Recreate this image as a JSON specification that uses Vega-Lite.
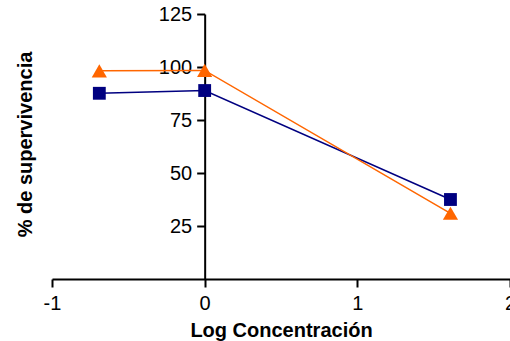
{
  "$schema": "https://vega.github.io/schema/vega-lite/v6.json",
  "autosize": "none",
  "width": 458,
  "height": 265,
  "padding": {"left": 52, "top": 14, "right": 0, "bottom": 62},
  "background": "white",
  "config": {"view": {"stroke": null}, "font": "Liberation Sans"},
  "data": {
    "values": [
      {"logc": -0.69, "surv": 87.6, "serie": "A"},
      {"logc": 0, "surv": 88.9, "serie": "A"},
      {"logc": 1.61, "surv": 37.5, "serie": "A"},
      {"logc": -0.69, "surv": 98.2, "serie": "B"},
      {"logc": 0, "surv": 98.4, "serie": "B"},
      {"logc": 1.61, "surv": 31.0, "serie": "B"}
    ]
  },
  "encoding": {
    "x": {
      "field": "logc", "type": "quantitative",
      "scale": {"domain": [-1, 2], "nice": false, "zero": false},
      "axis": {
        "title": "Log Concentración",
        "values": [-1, 0, 1, 2],
        "labelExpr": "'' + datum.value",
        "grid": false,
        "domainColor": "black", "domainWidth": 2,
        "tickColor": "black", "tickWidth": 2, "tickSize": 8,
        "labelColor": "black", "labelFontSize": 20, "labelPadding": 6,
        "labelFlush": false, "labelOverlap": false,
        "titleFontSize": 20, "titleFontWeight": "bold", "titleColor": "black",
        "titleBaseline": "alphabetic", "titleY": 57
      }
    },
    "y": {
      "field": "surv", "type": "quantitative",
      "scale": {"domain": [0, 125], "nice": false},
      "axis": {
        "title": "% de supervivencia",
        "values": [25, 50, 75, 100, 125],
        "offset": -152.67,
        "grid": false,
        "domainColor": "black", "domainWidth": 2,
        "tickColor": "black", "tickWidth": 2, "tickSize": 8,
        "labelColor": "black", "labelFontSize": 20, "labelPadding": 5,
        "labelFlush": false, "labelOverlap": false,
        "titleFontSize": 20, "titleFontWeight": "bold", "titleColor": "black",
        "titleAngle": -90, "titleBaseline": "alphabetic", "titleAlign": "center",
        "titleX": -173, "titleY": 130
      }
    },
    "color": {
      "field": "serie", "type": "nominal",
      "scale": {"domain": ["A", "B"], "range": ["#000080", "#FF6600"]},
      "legend": null
    }
  },
  "layer": [
    {"mark": {"type": "line", "strokeWidth": 1.5}},
    {
      "mark": {"type": "point", "filled": true, "opacity": 1},
      "encoding": {
        "shape": {
          "field": "serie", "type": "nominal",
          "scale": {"domain": ["A", "B"], "range": ["square", "triangle-up"]},
          "legend": null
        },
        "size": {
          "field": "serie", "type": "nominal",
          "scale": {"domain": ["A", "B"], "range": [165, 230]},
          "legend": null
        }
      }
    }
  ]
}
